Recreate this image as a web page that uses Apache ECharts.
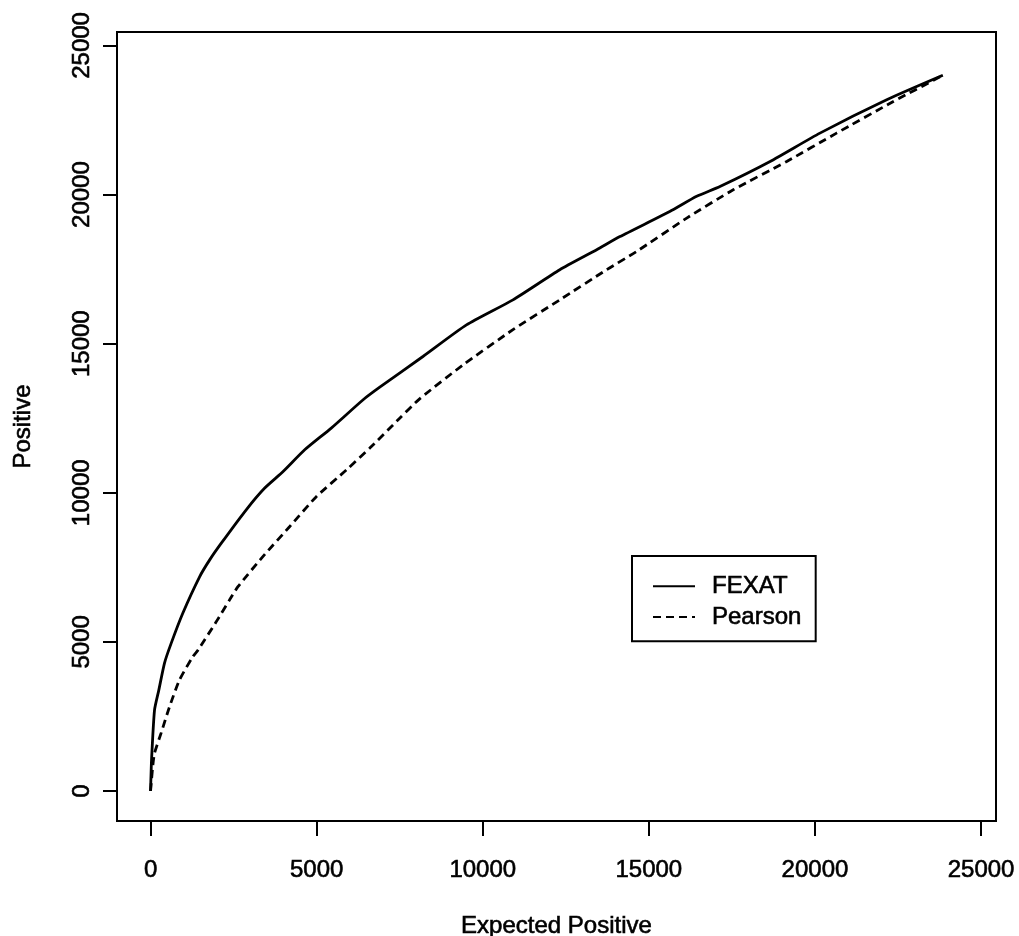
<!DOCTYPE html>
<html>
<head>
<meta charset="utf-8">
<script src="https://cdn.jsdelivr.net/npm/echarts@6/dist/echarts.min.js"></script>
<style>
  html, body { margin: 0; padding: 0; background: #fff; }
  #chart { width: 1019px; height: 936px; }
</style>
</head>
<body>
<div id="chart"></div>
<script>
// values
var tickValues = [0, 5000, 10000, 15000, 20000, 25000];

var fexatX = [0, 30, 120, 250, 420, 620, 970, 1480, 1780, 2130, 2880, 3430, 3990, 4640, 5440,
  6400, 6900, 8200, 9510, 10910, 12320, 13430, 14130, 15630, 16440, 17140, 18650, 20150, 22160, 23850];
var fexatY = [0, 1040, 2720, 3390, 4290, 4950, 5960, 7190, 7750, 8310, 9430, 10150, 10710, 11440, 12170,
  13120, 13540, 14570, 15630, 16470, 17480, 18150, 18590, 19430, 19940, 20270, 21110, 22060, 23180, 24000];

var pearsonX = [0, 70, 120, 320, 570, 870, 1270, 1430, 1980, 2380, 2630, 3380, 4190, 4990,
  5900, 6600, 7500, 8100, 9410, 10910, 12320, 13730, 14630, 16140, 17540, 19150, 20650, 22360, 23770];
var pearsonY = [0, 870, 1270, 1950, 2820, 3720, 4500, 4730, 5680, 6410, 6850, 7860, 8870, 9870,
  10770, 11500, 12500, 13150, 14290, 15470, 16470, 17480, 18090, 19210, 20160, 21110, 22060, 23120, 23950];

function pairs(xs, ys) {
  var out = [];
  for (var i = 0; i < xs.length; i++) out.push([xs[i], ys[i]]);
  return out;
}

var chart = echarts.init(document.getElementById('chart'));
var fontName = 'Liberation Sans, Arial, sans-serif';
var txt = { fontSize: 24, color: '#000', fontFamily: fontName, textBorderColor: '#000', textBorderWidth: 0.6 };

function plain(v) { return String(v); }

var option = {
  backgroundColor: '#fff',
  animation: false,
  textStyle: { fontFamily: fontName, color: '#000' },
  grid: {
    left: 117, top: 32, right: 23, bottom: 115,
    containLabel: false,
    outerBoundsMode: 'none',
    show: true, borderColor: '#000', borderWidth: 2
  },
  legend: {
    orient: 'vertical',
    left: 632, top: 556,
    borderColor: '#000', borderWidth: 2,
    padding: [18, 14, 12, 20],
    itemGap: 6,
    itemWidth: 42, itemHeight: 14,
    itemStyle: { opacity: 0 },
    textStyle: Object.assign({}, txt, { padding: [0, 0, 0, 12] }),
    data: ['FEXAT', 'Pearson']
  },
  xAxis: {
    type: 'value',
    min: -1010, max: 25450,
    name: 'Expected Positive',
    nameLocation: 'middle',
    nameGap: 93,
    nameTextStyle: txt,
    axisLine: { show: false, onZero: false },
    splitLine: { show: false },
    axisTick: { show: true, inside: false, length: 15, lineStyle: { color: '#000', width: 2 }, customValues: tickValues },
    axisLabel: Object.assign({ margin: 37, formatter: plain, customValues: tickValues }, txt)
  },
  yAxis: {
    type: 'value',
    min: -1006, max: 25451,
    name: 'Positive',
    nameLocation: 'middle',
    nameGap: 82,
    nameRotate: 90,
    nameTextStyle: txt,
    axisLine: { show: false, onZero: false },
    splitLine: { show: false },
    axisTick: { show: true, inside: false, length: 14, lineStyle: { color: '#000', width: 2 }, customValues: tickValues },
    axisLabel: Object.assign({ margin: 23, rotate: 90, formatter: plain, customValues: tickValues }, txt)
  },
  series: [
    {
      name: 'FEXAT',
      type: 'line',
      symbol: 'none',
      smooth: 0.2,
      lineStyle: { color: '#000', width: 2.8, type: 'solid' },
      itemStyle: { color: '#000' },
      data: pairs(fexatX, fexatY)
    },
    {
      name: 'Pearson',
      type: 'line',
      symbol: 'none',
      smooth: 0.2,
      lineStyle: { color: '#000', width: 2.8, type: [8, 5] },
      itemStyle: { color: '#000' },
      data: pairs(pearsonX, pearsonY)
    }
  ]
};

chart.setOption(option);
</script>
</body>
</html>
